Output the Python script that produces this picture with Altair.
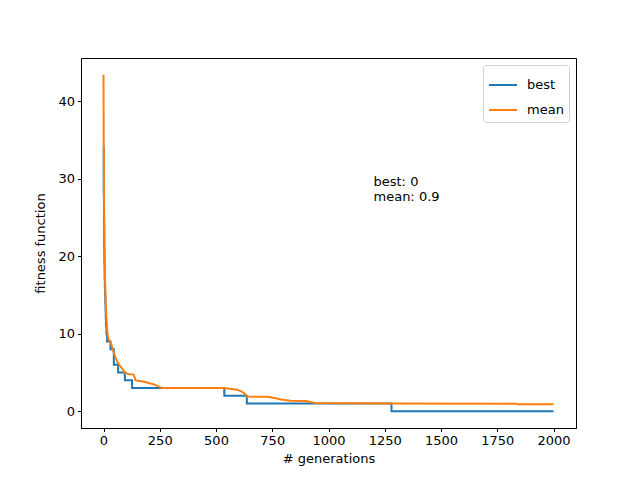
import pandas as pd
import altair as alt

# best fitness per generation (change points, drawn as steps)
best_gen = [0, 1, 2, 3, 4, 5, 6, 7, 8, 9, 10, 11, 13, 16, 31, 46, 65, 95, 127, 537, 637, 1280, 2000]
best_val = [34, 28, 24, 21, 19, 17, 16, 15, 14, 13, 12, 11, 10, 9, 8, 6, 5, 4, 3, 2, 1, 0, 0]

# mean fitness per generation
mean_gen = [0, 1, 2, 3, 4, 5, 6, 7, 8, 10, 12, 15, 18, 22, 28, 35, 45, 55, 65, 80, 95, 110,
            125, 135, 142, 160, 180, 205, 230, 250, 265, 537, 560, 590, 610, 625, 640, 700,
            730, 760, 790, 830, 900, 940, 1280, 1834, 1840, 2000]
mean_val = [43.4, 35, 29, 25, 22, 20, 18, 17, 16, 14, 12.5, 11, 10, 9.3, 9.0, 8.6, 7.6, 6.8,
            6.2, 5.6, 5.0, 4.8, 4.75, 4.7, 4.0, 3.9, 3.8, 3.6, 3.4, 3.1, 3.0, 3.0, 2.9, 2.8,
            2.6, 2.3, 1.9, 1.85, 1.85, 1.7, 1.5, 1.35, 1.3, 1.05, 1.0, 0.95, 0.9, 0.9]

series = ["best", "mean"]
colors = ["#1f77b4", "#ff7f0e"]

x_ticks = [0, 250, 500, 750, 1000, 1250, 1500, 1750, 2000]
y_ticks = [0, 10, 20, 30, 40]

ann_x = 1200
ann_y = 27
ann_text = "best: %d\nmean: %.1f" % (best_val[-1], mean_val[-1])

best_df = pd.DataFrame({"gen": best_gen, "value": best_val, "series": "best"})
mean_df = pd.DataFrame({"gen": mean_gen, "value": mean_val, "series": "mean"})
ann_df = pd.DataFrame({"gen": [ann_x], "value": [ann_y], "label": [ann_text]})

x_enc = alt.X("gen:Q", title="# generations",
              scale=alt.Scale(domain=[-100, 2100], nice=False, zero=False),
              axis=alt.Axis(values=x_ticks, format="d"))
y_enc = alt.Y("value:Q", title="fitness function",
              scale=alt.Scale(domain=[-2.17, 45.57], nice=False, zero=False),
              axis=alt.Axis(values=y_ticks, format="d"))
color_enc = alt.Color("series:N", scale=alt.Scale(domain=series, range=colors),
                      legend=alt.Legend(title=None))

best_line = alt.Chart(best_df).mark_line(interpolate="step-after", strokeWidth=2).encode(
    x=x_enc, y=y_enc, color=color_enc
)
mean_line = alt.Chart(mean_df).mark_line(strokeWidth=2).encode(
    x=x_enc, y=y_enc, color=color_enc
)
# anchored at the baseline of the last line, like matplotlib's text()
note = alt.Chart(ann_df).mark_text(
    align="left", baseline="alphabetic", lineBreak="\n", dy=-16,
    font="DejaVu Sans", fontSize=13, color="black"
).encode(x="gen:Q", y="value:Q", text="label:N")

chart = alt.layer(best_line, mean_line, note).properties(
    width=495,
    height=370,
    autosize=alt.AutoSizeParams(type="none"),
    padding={"left": 73, "top": 50, "right": 56, "bottom": 44},
    background="white",
).configure_view(
    stroke="black", strokeWidth=1
).configure_axis(
    grid=False,
    domainColor="black",
    tickColor="black",
    tickSize=3.5,
    labelPadding=3,
    labelColor="black",
    labelFont="DejaVu Sans",
    labelFontSize=13,
    titleFont="DejaVu Sans",
    titleFontSize=13,
    titleFontWeight="normal",
    titleColor="black",
).configure_axisX(
    titlePadding=5
).configure_axisY(
    titlePadding=10
).configure_legend(
    orient="top-right",
    offset=7,
    padding=5,
    fillColor="white",
    strokeColor="#d0d0d0",
    cornerRadius=3,
    symbolType="stroke",
    symbolSize=784,
    symbolStrokeWidth=2,
    labelFont="DejaVu Sans",
    labelFontSize=13,
    labelColor="black",
    labelOffset=9,
    rowPadding=3,
)

chart.save("out.html", embed_options={"renderer": "svg", "actions": False})
